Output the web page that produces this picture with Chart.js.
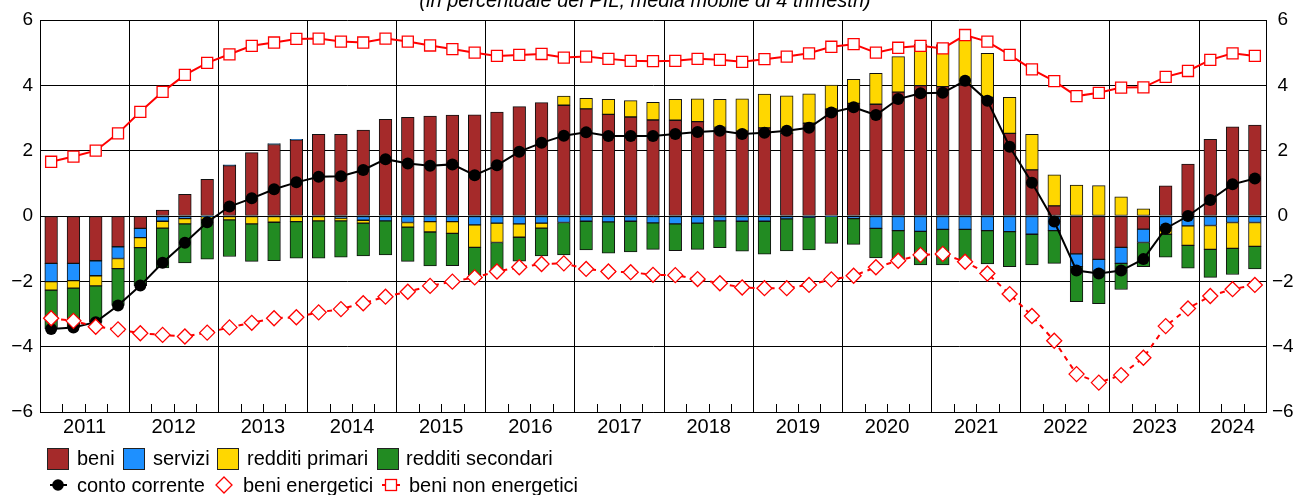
<!DOCTYPE html>
<html>
<head>
<meta charset="utf-8">
<script src="https://cdn.jsdelivr.net/npm/chart.js@4.4.1/dist/chart.umd.min.js"></script>
<style>
html,body{margin:0;padding:0;background:#fff;overflow:hidden;}
#wrap{position:relative;width:1296px;height:495px;overflow:hidden;font-family:'Liberation Sans',Arial,sans-serif;color:#000;}
#c{position:absolute;left:0;top:0;}
#title{position:absolute;left:-3px;width:1296px;top:-10px;text-align:center;font-style:italic;font-size:20px;line-height:20px;white-space:nowrap;}
.lg{position:absolute;font-size:20px;line-height:24px;white-space:nowrap;}
.box{position:absolute;width:22px;height:22px;box-sizing:border-box;border:1px solid #222;}
.mk{position:absolute;}
</style>
</head>
<body>
<div id="wrap">
<canvas id="c" width="1296" height="495"></canvas>
<div id="title">(in percentuale del PIL, media mobile di 4 trimestri)</div>
<div id="legend"></div>
</div>
<script>
// ---- DATA (quarters 2011 T1 .. 2024 T3) ----
const years = ['2011','2012','2013','2014','2015','2016','2017','2018','2019','2020','2021','2022','2023','2024'];
const quarterYears = [];
years.forEach((y, k) => { const n = (y === '2024') ? 3 : 4; for (let q = 0; q < n; q++) quarterYears.push(y); });

const beni = [-1.45,-1.45,-1.37,-0.94,-0.38,0.18,0.66,1.12,1.54,1.94,2.19,2.33,2.50,2.50,2.63,2.96,3.02,3.06,3.09,3.10,3.18,3.35,3.47,3.39,3.28,3.11,3.03,2.94,2.93,2.89,2.71,2.60,2.70,2.53,2.84,3.27,3.45,3.42,3.79,3.99,3.96,4.01,3.63,2.53,1.41,0.31,-1.16,-1.33,-0.96,-0.40,0.92,1.59,2.35,2.73,2.78];
const servizi = [-0.56,-0.53,-0.46,-0.36,-0.28,-0.16,-0.08,-0.02,0.03,0.00,0.03,0.02,0.00,-0.06,-0.13,-0.15,-0.20,-0.17,-0.17,-0.27,-0.22,-0.24,-0.22,-0.20,-0.16,-0.18,-0.16,-0.21,-0.24,-0.22,-0.15,-0.16,-0.16,-0.09,-0.04,-0.01,-0.08,-0.38,-0.45,-0.47,-0.41,-0.41,-0.45,-0.48,-0.56,-0.45,-0.39,-0.35,-0.49,-0.41,-0.35,-0.30,-0.29,-0.20,-0.20];
const redditiPrimari = [-0.26,-0.23,-0.31,-0.31,-0.31,-0.21,-0.16,-0.10,-0.12,-0.24,-0.19,-0.17,-0.15,-0.09,-0.09,0.00,-0.14,-0.32,-0.36,-0.69,-0.59,-0.41,-0.15,0.28,0.32,0.46,0.50,0.54,0.64,0.70,0.86,0.99,1.03,1.15,0.90,0.74,0.73,0.95,1.09,1.27,1.29,1.43,1.35,1.10,1.09,0.95,0.95,0.93,0.59,0.22,-0.21,-0.60,-0.73,-0.79,-0.73];
const redditiSecondari = [-1.19,-1.20,-1.11,-1.13,-1.16,-1.22,-1.20,-1.20,-1.12,-1.15,-1.18,-1.12,-1.14,-1.11,-1.00,-1.04,-1.05,-1.04,-0.99,-0.85,-0.84,-0.73,-0.85,-0.99,-0.88,-0.96,-0.94,-0.81,-0.82,-0.80,-0.82,-0.92,-1.01,-0.98,-1.00,-0.83,-0.79,-0.90,-0.87,-1.03,-1.09,-0.94,-1.02,-1.07,-0.94,-1.00,-1.07,-1.00,-0.80,-0.74,-0.70,-0.70,-0.86,-0.80,-0.69];
const contoCorrente = [-3.46,-3.41,-3.25,-2.74,-2.13,-1.43,-0.82,-0.19,0.29,0.54,0.82,1.03,1.20,1.22,1.41,1.74,1.61,1.54,1.58,1.25,1.55,1.97,2.24,2.46,2.56,2.45,2.45,2.45,2.51,2.57,2.61,2.51,2.55,2.61,2.70,3.17,3.33,3.09,3.58,3.76,3.77,4.14,3.53,2.12,1.02,-0.17,-1.67,-1.76,-1.67,-1.32,-0.38,0.00,0.49,0.97,1.15];
const beniEnergetici = [-3.13,-3.21,-3.39,-3.47,-3.59,-3.64,-3.69,-3.57,-3.41,-3.27,-3.13,-3.10,-2.95,-2.85,-2.67,-2.47,-2.32,-2.14,-2.01,-1.88,-1.70,-1.57,-1.47,-1.45,-1.62,-1.70,-1.72,-1.80,-1.81,-1.93,-2.06,-2.19,-2.21,-2.21,-2.11,-1.94,-1.83,-1.57,-1.37,-1.19,-1.16,-1.40,-1.76,-2.39,-3.06,-3.82,-4.84,-5.10,-4.87,-4.34,-3.37,-2.83,-2.45,-2.24,-2.11];
const beniNonEnergetici = [1.66,1.82,2.00,2.53,3.19,3.80,4.32,4.69,4.95,5.21,5.31,5.42,5.43,5.34,5.31,5.43,5.34,5.22,5.11,5.00,4.90,4.93,4.96,4.85,4.88,4.81,4.75,4.74,4.75,4.81,4.78,4.72,4.80,4.88,4.98,5.18,5.26,5.00,5.15,5.21,5.13,5.54,5.34,4.93,4.49,4.13,3.67,3.77,3.93,3.94,4.26,4.44,4.78,4.98,4.90];
const yTicks = [-6,-4,-2,0,2,4,6];

// ---- derived positions from the data ----
const N = quarterYears.length;
const pts = arr => arr.map((v, i) => ({x: i, y: v}));
const yearLabelPos = {};
years.forEach(y => {
  const idx = quarterYears.map((q, i) => q === y ? i : -1).filter(i => i >= 0);
  yearLabelPos[(idx[0] + idx[idx.length - 1]) / 2] = y;
});
const yearBoundary = new Set([-0.5, N - 0.5]);
for (let i = 0; i < N - 1; i++) if (quarterYears[i] !== quarterYears[i + 1]) yearBoundary.add(i + 0.5);
const xTickVals = new Set();
for (let i = -1; i < N; i++) xTickVals.add(i + 0.5);
Object.keys(yearLabelPos).forEach(k => xTickVals.add(parseFloat(k)));
const xTicks = Array.from(xTickVals).sort((a, b) => a - b);

const FONT = "'Liberation Sans', Arial, sans-serif";
Chart.defaults.font.family = FONT;
Chart.defaults.color = '#000';

const innerTicks = {
  id: 'innerTicks',
  beforeDatasetsDraw(chart) {
    const {ctx, chartArea, scales} = chart;
    const x = scales.x;
    ctx.save();
    ctx.strokeStyle = '#000';
    ctx.lineWidth = 1;
    for (let i = 0; i < N - 1; i++) {
      const v = i + 0.5;
      if (yearBoundary.has(v)) continue;
      const px = Math.round(x.getPixelForValue(v)) + 0.5;
      ctx.beginPath();
      ctx.moveTo(px, chartArea.bottom);
      ctx.lineTo(px, chartArea.bottom - 8);
      ctx.stroke();
    }
    ctx.restore();
  }
};

const barCommon = {type: 'bar', stack: 'saldo', borderColor: '#111', borderWidth: 1, borderSkipped: false, barThickness: 12.7, order: 5, yAxisID: 'y', xAxisID: 'x'};

new Chart(document.getElementById('c'), {
  type: 'bar',
  data: {
    datasets: [
      Object.assign({label: 'beni', data: pts(beni), backgroundColor: '#A52A2A'}, barCommon),
      Object.assign({label: 'servizi', data: pts(servizi), backgroundColor: '#1E90FF'}, barCommon),
      Object.assign({label: 'redditi primari', data: pts(redditiPrimari), backgroundColor: '#FFD700'}, barCommon),
      Object.assign({label: 'redditi secondari', data: pts(redditiSecondari), backgroundColor: '#228B22'}, barCommon),
      {type: 'line', label: 'conto corrente', data: pts(contoCorrente), stack: 'cc', order: 3,
       borderColor: '#000', borderWidth: 2, pointStyle: 'circle', pointRadius: 6, pointBackgroundColor: '#000', pointBorderColor: '#000', pointBorderWidth: 0, tension: 0, yAxisID: 'y', xAxisID: 'x'},
      {type: 'line', label: 'beni energetici', data: pts(beniEnergetici), stack: 'en', order: 2,
       borderColor: '#FF0000', borderWidth: 2, borderDash: [5, 5], pointStyle: 'rectRot', pointRadius: 7.5, pointBackgroundColor: '#fff', pointBorderColor: '#FF0000', pointBorderWidth: 1.3, tension: 0, yAxisID: 'y', xAxisID: 'x'},
      {type: 'line', label: 'beni non energetici', data: pts(beniNonEnergetici), stack: 'ne', order: 1,
       borderColor: '#FF0000', borderWidth: 2, pointStyle: 'rect', pointRadius: 7.8, pointBackgroundColor: '#fff', pointBorderColor: '#FF0000', pointBorderWidth: 1.3, tension: 0, yAxisID: 'y', xAxisID: 'x'}
    ]
  },
  options: {
    responsive: false,
    devicePixelRatio: 1,
    animation: false,
    layout: {padding: {top: 20, left: 0, right: 0, bottom: 0}},
    plugins: {legend: {display: false}, tooltip: {enabled: false}, title: {display: false}},
    scales: {
      x: {
        type: 'linear', position: 'bottom', min: -0.5, max: N - 0.5, offset: false,
        afterBuildTicks: s => { s.ticks = xTicks.map(v => ({value: v})); },
        afterFit: s => { s.height = 83; },
        ticks: {autoSkip: false, maxRotation: 0, minRotation: 0, padding: 3, font: {size: 20}, color: '#000',
                callback: v => (yearLabelPos[v] !== undefined ? yearLabelPos[v] : '')},
        grid: {offset: false, drawTicks: false, lineWidth: 1,
               color: c => (c.tick && yearBoundary.has(c.tick.value)) ? '#000' : 'rgba(0,0,0,0)'},
        border: {display: true, color: '#000', width: 1}
      },
      y: {
        type: 'linear', position: 'left', stacked: true, min: -6, max: 6,
        afterBuildTicks: s => { s.ticks = yTicks.map(v => ({value: v})); },
        afterFit: s => { s.width = 40; },
        ticks: {padding: 7, font: {size: 19}, color: '#000', callback: v => v < 0 ? '\u2212' + Math.abs(v) : String(v)},
        grid: {color: '#000', lineWidth: 1, drawTicks: false},
        border: {display: true, color: '#000', width: 1}
      },
      y2: {
        type: 'linear', position: 'right', min: -6, max: 6,
        afterBuildTicks: s => { s.ticks = yTicks.map(v => ({value: v})); },
        afterFit: s => { s.width = 30; },
        ticks: {padding: 6, crossAlign: 'center', font: {size: 19}, color: '#000', callback: v => v < 0 ? '\u2212' + Math.abs(v) : String(v)},
        grid: {drawOnChartArea: false, drawTicks: false},
        border: {display: true, color: '#000', width: 1}
      }
    }
  },
  plugins: [innerTicks]
});

// ---- HTML legend ----
const lg = document.getElementById('legend');
const row1 = [
  {label: 'beni', color: '#A52A2A', bx: 47, tx: 77},
  {label: 'servizi', color: '#1E90FF', bx: 123, tx: 153},
  {label: 'redditi primari', color: '#FFD700', bx: 217, tx: 247},
  {label: 'redditi secondari', color: '#228B22', bx: 377, tx: 406}
];
row1.forEach(it => {
  const b = document.createElement('div');
  b.className = 'box'; b.style.left = it.bx + 'px'; b.style.top = '448px'; b.style.background = it.color;
  lg.appendChild(b);
  const t = document.createElement('div');
  t.className = 'lg'; t.style.left = it.tx + 'px'; t.style.top = '446px'; t.textContent = it.label;
  lg.appendChild(t);
});
const svgNS = 'http://www.w3.org/2000/svg';
function svgMarker(left, inner) {
  const s = document.createElementNS(svgNS, 'svg');
  s.setAttribute('width', '30'); s.setAttribute('height', '22');
  s.setAttribute('class', 'mk');
  s.style.left = left + 'px'; s.style.top = '474px';
  s.innerHTML = inner;
  lg.appendChild(s);
}
svgMarker(45, '<line x1="5" y1="11" x2="22" y2="11" stroke="#000" stroke-width="2"/><circle cx="13" cy="11" r="5.8" fill="#000"/>');
svgMarker(209, '<polygon points="15,3 23,11 15,19 7,11" fill="#fff" stroke="#f00" stroke-width="1.3"/>');
svgMarker(377, '<line x1="5" y1="11" x2="23" y2="11" stroke="#f00" stroke-width="2"/><rect x="8.5" y="5.5" width="11" height="11" fill="#fff" stroke="#f00" stroke-width="1.3"/>');
[{label: 'conto corrente', tx: 77}, {label: 'beni energetici', tx: 243}, {label: 'beni non energetici', tx: 409}].forEach(it => {
  const t = document.createElement('div');
  t.className = 'lg'; t.style.left = it.tx + 'px'; t.style.top = '473px'; t.textContent = it.label;
  lg.appendChild(t);
});
</script>
</body>
</html>
